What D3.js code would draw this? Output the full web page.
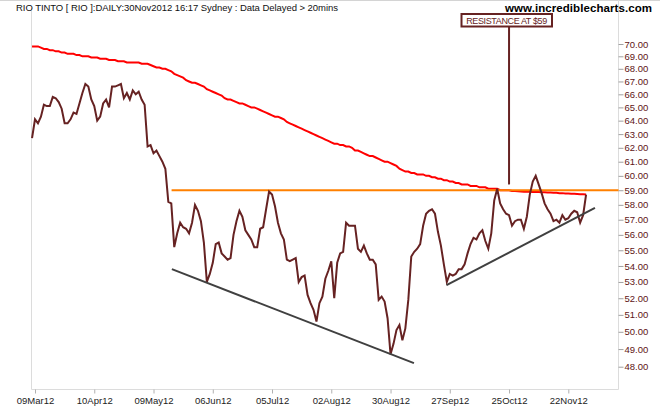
<!DOCTYPE html>
<html>
<head>
<meta charset="utf-8">
<script src="https://cdn.jsdelivr.net/npm/d3@7"></script>
<style>
  body { margin: 0; background: #fff; }
  svg { display: block; font-family: "Liberation Sans", Arial, sans-serif; }
</style>
</head>
<body>
<div id="chart"></div>
<script>
// trading-day index 0 = 09Mar12, data starts one day earlier
var firstDay = -1;

var closes = [
  62.7, 64.1, 63.8, 64.3, 65.2, 65.1, 65.1, 65.8, 65.7, 65.4,
  64.9, 63.8, 63.8, 64.1, 64.6, 64.5, 65.3, 66.1, 66.8, 66.6,
  65.6, 65.1, 64.0, 64.3, 65.3, 65.6, 65.0, 66.6, 66.6, 66.7,
  66.8, 65.7, 66.1, 65.6, 66.3, 66.0, 66.2, 65.6, 65.2, 62.1,
  62.2, 61.6, 61.8, 61.4, 61.0, 60.5, 58.2, 58.1, 55.2, 56.1,
  56.8, 56.5, 56.4, 56.1, 56.8, 58.0, 57.6, 56.9, 55.5, 53.0,
  53.5, 54.2, 55.4, 55.5, 54.8, 54.6, 54.4, 54.5, 56.0, 56.9,
  57.6, 57.2, 56.3, 56.0, 55.7, 55.2, 55.2, 56.4, 56.5, 57.7,
  58.9, 58.7, 57.9, 56.8, 56.1, 55.7, 54.4, 54.3, 54.4, 54.5,
  53.0, 53.3, 53.4, 52.2, 51.7, 51.3, 50.6, 51.7, 52.1, 53.2,
  53.7, 54.3, 52.0, 54.2, 54.8, 54.9, 56.8, 56.6, 56.6, 56.6,
  55.1, 54.9, 55.3, 54.8, 54.4, 54.4, 54.1, 51.9, 52.1, 51.8,
  50.8, 48.7, 49.3, 50.1, 50.4, 49.5, 50.2, 51.9, 54.6, 54.9,
  55.1, 55.4, 56.6, 57.4, 57.6, 57.7, 57.4, 56.2, 55.3, 54.1,
  53.0, 53.5, 53.4, 53.5, 53.8, 53.8, 54.1, 54.8, 55.4, 55.8,
  55.7, 56.1, 56.3, 55.6, 55.1, 56.1, 58.3, 59.1, 58.1, 57.7,
  57.4, 57.3, 56.6, 56.9, 57.0, 57.0, 56.4, 57.2, 58.7, 59.6,
  60.0, 59.4, 58.8, 58.1, 57.7, 57.4, 56.9, 57.0, 56.8, 57.3,
  57.0, 57.1, 57.4, 57.6, 57.5, 56.8, 57.3, 58.7
];

var movingAvg = [
  69.8, 69.8, 69.8, 69.7, 69.6, 69.6, 69.5, 69.5, 69.4, 69.4,
  69.3, 69.3, 69.2, 69.2, 69.2, 69.1, 69.1, 69.0, 69.0, 69.0,
  68.9, 68.9, 68.9, 68.8, 68.8, 68.8, 68.7, 68.7, 68.7, 68.6,
  68.6, 68.6, 68.5, 68.5, 68.5, 68.5, 68.5, 68.4, 68.4, 68.4,
  68.3, 68.2, 68.1, 68.1, 68.0, 68.0, 67.9, 67.8, 67.6, 67.5,
  67.4, 67.3, 67.1, 67.0, 66.9, 66.9, 66.8, 66.7, 66.6, 66.4,
  66.3, 66.2, 66.1, 66.0, 65.9, 65.7, 65.6, 65.6, 65.5, 65.4,
  65.3, 65.3, 65.2, 65.1, 65.0, 65.0, 64.9, 64.8, 64.7, 64.6,
  64.5, 64.4, 64.3, 64.3, 64.2, 64.1, 63.9, 63.8, 63.7, 63.6,
  63.5, 63.4, 63.3, 63.2, 63.1, 63.0, 62.9, 62.8, 62.7, 62.6,
  62.5, 62.4, 62.3, 62.3, 62.2, 62.2, 62.1, 62.1, 62.0, 61.8,
  61.8, 61.7, 61.6, 61.5, 61.4, 61.4, 61.3, 61.2, 61.1, 61.0,
  61.0, 60.9, 60.8, 60.7, 60.5, 60.4, 60.3, 60.3, 60.2, 60.2,
  60.1, 60.1, 60.1, 60.0, 60.0, 59.9, 59.9, 59.8, 59.8, 59.7,
  59.7, 59.6, 59.6, 59.5, 59.5, 59.4, 59.4, 59.4, 59.3, 59.3,
  59.3, 59.2, 59.2, 59.2, 59.1, 59.1, 59.1, 59.1, 59.0, 59.0,
  59.0, 59.0, 58.95, 58.94, 58.93, 58.91, 58.9, 58.9, 58.89, 58.88,
  58.88, 58.87, 58.86, 58.86, 58.85, 58.84, 58.83, 58.82, 58.8, 58.8,
  58.78, 58.77, 58.76, 58.75, 58.74, 58.73, 58.72, 58.7
];

var tickDays = [0, 20, 40, 60, 80, 100, 120, 140, 160, 180];
var tickLabels = ["09Mar12", "10Apr12", "09May12", "06Jun12", "05Jul12",
                  "02Aug12", "30Aug12", "27Sep12", "25Oct12", "22Nov12"];
var priceTicks = [48, 49, 50, 51, 52, 53, 54, 55, 56, 57, 58, 59,
                  60, 61, 62, 63, 64, 65, 66, 67, 68, 69, 70];

// drawn-in trend lines [day, price]
var fallingTrend = [[46.2, 53.8], [127.9, 48.2]];
var risingTrend = [[138.9, 52.8], [189.0, 57.8]];
var resistance = { fromDay: 46.1, price: 59 };
var note = { day: 160, price: 59.4, text: "RESISTANCE AT $59" };

var title = "RIO TINTO [ RIO ]:DAILY:30Nov2012 16:17 Sydney : Data Delayed > 20mins";

var width = 660, height = 410;
var plot = { left: 31.5, right: 618.5, top: 8, bottom: 389.5 };

var svg = d3.select('#chart').append('svg')
  .attr('width', width)
  .attr('height', height);

var xScale = d3.scaleLinear()
  .domain([0, 180])
  .range([35, 568.3]);

var yScale = d3.scaleLog()
  .domain([48, 70])
  .range([366.7, 44]);

var dayMax = xScale.invert(plot.right);

// frame
svg.append('line').attr('x1', 0).attr('x2', width).attr('y1', 0.5).attr('y2', 0.5)
  .attr('stroke', '#d4d4d4');
svg.append('line').attr('x1', plot.left).attr('x2', plot.left)
  .attr('y1', plot.top).attr('y2', plot.bottom).attr('stroke', '#dcdcdc');
svg.append('line').attr('x1', plot.right).attr('x2', plot.right)
  .attr('y1', 0).attr('y2', plot.bottom).attr('stroke', '#dcdcdc');
svg.append('line').attr('x1', plot.left).attr('x2', plot.right)
  .attr('y1', plot.bottom).attr('y2', plot.bottom).attr('stroke', '#dcdcdc');

// axes
var yAxis = d3.axisRight(yScale)
  .tickValues(priceTicks)
  .tickFormat(d3.format('.2f'))
  .tickSize(5)
  .tickPadding(1);

var yGuide = svg.append('g')
  .attr('transform', 'translate(' + plot.right + ',0)')
  .call(yAxis);
yGuide.select('.domain').remove();
yGuide.selectAll('line').attr('stroke', '#a0a0a0');
yGuide.selectAll('text')
  .attr('fill', '#5e1414')
  .style('font-size', '9.5px');

var xAxis = d3.axisBottom(xScale)
  .tickValues(tickDays)
  .tickFormat(function(d, i) { return tickLabels[i]; })
  .tickSize(4)
  .tickPadding(4);

var xGuide = svg.append('g')
  .attr('transform', 'translate(0,' + plot.bottom + ')')
  .call(xAxis);
xGuide.select('.domain').remove();
xGuide.selectAll('line').attr('stroke', '#b0b0b0');
xGuide.selectAll('text')
  .attr('fill', '#222')
  .style('font-size', '9.5px');

// series
var closeData = closes.map(function(v, i) { return [firstDay + i, v]; });
var maData = movingAvg.map(function(v, i) { return [firstDay + i, v]; });

var line = d3.line()
  .x(function(d) { return xScale(d[0]); })
  .y(function(d) { return yScale(d[1]); });

svg.append('path')
  .datum(maData)
  .attr('d', line)
  .attr('fill', 'none')
  .attr('stroke', '#ff0000')
  .attr('stroke-width', 2);

// resistance line
svg.append('line')
  .attr('x1', xScale(resistance.fromDay))
  .attr('x2', xScale(dayMax))
  .attr('y1', yScale(resistance.price))
  .attr('y2', yScale(resistance.price))
  .attr('stroke', '#ff8000')
  .attr('stroke-width', 2);

svg.append('path')
  .datum(closeData)
  .attr('d', line)
  .attr('fill', 'none')
  .attr('stroke', '#662222')
  .attr('stroke-width', 2)
  .attr('stroke-linejoin', 'miter');

svg.selectAll('.trend')
  .data([fallingTrend, risingTrend])
  .enter().append('path')
  .attr('class', 'trend')
  .attr('d', line)
  .attr('fill', 'none')
  .attr('stroke', '#404040')
  .attr('stroke-width', 2);

// annotation
var noteX = xScale(note.day);
svg.append('line')
  .attr('x1', noteX).attr('x2', noteX)
  .attr('y1', 27).attr('y2', yScale(note.price))
  .attr('stroke', '#662222')
  .attr('stroke-width', 2);

svg.append('rect')
  .attr('x', 461.5).attr('y', 14)
  .attr('width', 90.5).attr('height', 12.5)
  .attr('fill', '#fff')
  .attr('stroke', '#662222')
  .attr('stroke-width', 2);

svg.append('text')
  .attr('x', 506.7).attr('y', 23.6)
  .attr('text-anchor', 'middle')
  .attr('fill', '#662222')
  .style('font-size', '9px')
  .attr('textLength', 81)
  .text(note.text);

// header
svg.append('text')
  .attr('x', 16).attr('y', 10.5)
  .attr('fill', '#111')
  .style('font-size', '9.5px')
  .attr('textLength', 322)
  .text(title);

svg.append('text')
  .attr('x', 505).attr('y', 11.7)
  .attr('fill', '#000')
  .style('font-size', '11.5px')
  .style('font-weight', 'bold')
  .attr('textLength', 147)
  .text('www.incrediblecharts.com');
</script>
</body>
</html>
